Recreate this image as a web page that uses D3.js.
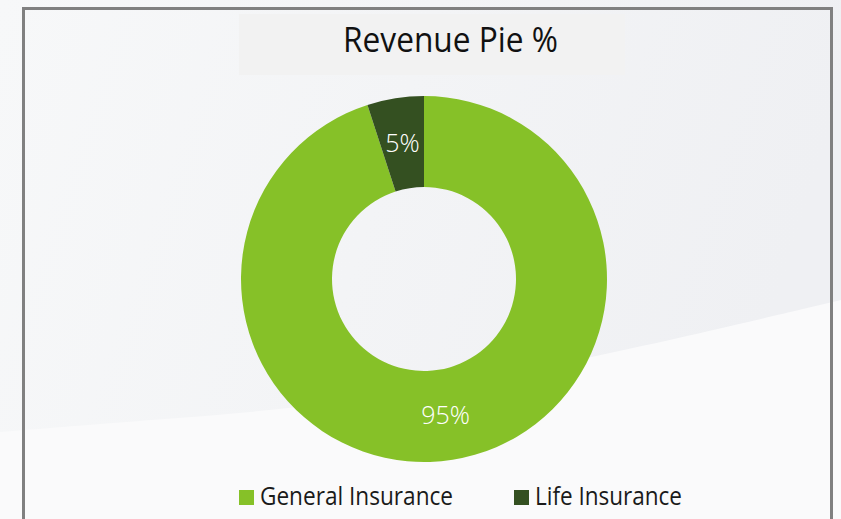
<!DOCTYPE html>
<html>
<head>
<meta charset="utf-8">
<script src="https://cdn.jsdelivr.net/npm/d3@7"></script>
<style>
  html, body { margin: 0; padding: 0; background: #f3f4f6; }
  svg { display: block; }
</style>
</head>
<body>
<div id="chart"></div>
<script>
var categories = ['General Insurance', 'Life Insurance'];
var values = [95, 5];
var labels = ['95%', '5%'];
var colors = ['#86c128', '#345021'];

var width = 841,
    height = 519,
    cx = 424,
    cy = 279,
    outerR = 183,
    innerR = 92;

var svg = d3.select('#chart').append('svg')
    .attr('width', width)
    .attr('height', height);

var defs = svg.append('defs');
var grad = defs.append('linearGradient')
    .attr('id', 'bg')
    .attr('x1', '0%').attr('y1', '0%')
    .attr('x2', '100%').attr('y2', '20%');
grad.append('stop').attr('offset', '0%').attr('stop-color', '#f7f8f9');
grad.append('stop').attr('offset', '100%').attr('stop-color', '#eff0f3');

// background
svg.append('rect')
    .attr('width', width)
    .attr('height', height)
    .attr('fill', 'url(#bg)');

// lighter swoosh at the bottom
var swoosh = d3.line().curve(d3.curveBasis);
svg.append('path')
    .attr('d', swoosh([[0, 432], [150, 420], [350, 405], [600, 357], [841, 300]]) +
      'L841,519L0,519Z')
    .attr('fill', '#fafafb');

// frame
svg.append('rect')
    .attr('x', 23.5)
    .attr('y', 8.5)
    .attr('width', 808)
    .attr('height', 530)
    .attr('fill', 'none')
    .attr('stroke', '#808080')
    .attr('stroke-width', 3);

// title
svg.append('rect')
    .attr('x', 239)
    .attr('y', 14)
    .attr('width', 386)
    .attr('height', 61)
    .attr('fill', '#f2f2f2');

svg.append('text')
    .attr('x', 343)
    .attr('y', 52)
    .attr('textLength', 215)
    .attr('lengthAdjust', 'spacingAndGlyphs')
    .style('font-family', 'Open Sans')
    .style('font-size', '34px')
    .style('fill', '#111')
    .text('Revenue Pie %');

// donut
var pie = d3.pie().sort(null).value(function(d) { return d; });
var arc = d3.arc().innerRadius(innerR).outerRadius(outerR);
var arcs = pie(values);

var g = svg.append('g')
    .attr('transform', 'translate(' + cx + ',' + cy + ')');

g.selectAll('path')
  .data(arcs)
  .enter().append('path')
    .attr('d', arc)
    .attr('fill', function(d, i) { return colors[i]; });

g.selectAll('text')
  .data(arcs)
  .enter().append('text')
    .attr('x', function(d) { return arc.centroid(d)[0]; })
    .attr('y', function(d) { return arc.centroid(d)[1] + 9; })
    .attr('text-anchor', 'middle')
    .style('font-family', 'Open Sans')
    .style('font-weight', 300)
    .style('font-size', '25px')
    .style('fill', '#ffffff')
    .text(function(d, i) { return labels[i]; });

// legend
var legendX = [239, 514],
    legendW = [193, 147];

var leg = svg.selectAll('.legend')
  .data(categories)
  .enter().append('g')
    .attr('class', 'legend')
    .attr('transform', function(d, i) { return 'translate(' + legendX[i] + ',490)'; });

leg.append('rect')
    .attr('width', 15)
    .attr('height', 15)
    .attr('fill', function(d, i) { return colors[i]; });

leg.append('text')
    .attr('x', 21)
    .attr('y', 15)
    .attr('textLength', function(d, i) { return legendW[i]; })
    .attr('lengthAdjust', 'spacingAndGlyphs')
    .style('font-family', 'Open Sans')
    .style('font-size', '25px')
    .style('fill', '#1a1a1a')
    .text(function(d) { return d; });
</script>
</body>
</html>
